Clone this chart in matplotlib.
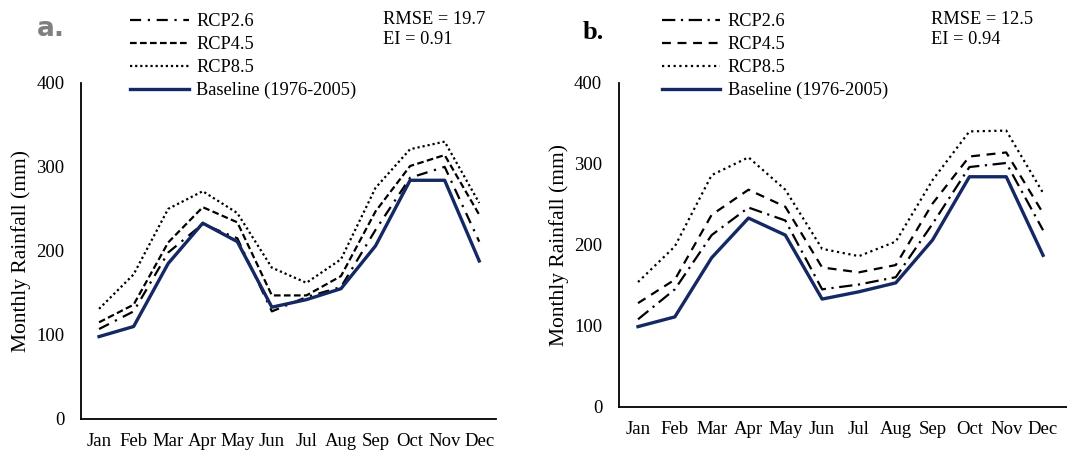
import matplotlib.pyplot as plt
import numpy as np

plt.rcParams['font.family'] = ['Liberation Serif', 'DejaVu Serif']

months = ['Jan', 'Feb', 'Mar', 'Apr', 'May', 'Jun', 'Jul', 'Aug', 'Sep', 'Oct', 'Nov', 'Dec']

# panel a
a_base = [98, 110, 185, 233, 211, 133, 142, 155, 206, 284, 284, 188]
a_rcp26 = [107, 128, 198, 232, 215, 128, 145, 157, 225, 287, 300, 211]
a_rcp45 = [115, 136, 210, 252, 234, 147, 147, 170, 247, 301, 314, 243]
a_rcp85 = [131, 172, 250, 271, 245, 180, 162, 190, 275, 321, 330, 257]

# panel b
b_base = [99, 111, 184, 233, 212, 133, 142, 153, 206, 284, 284, 187]
b_rcp26 = [108, 145, 212, 246, 230, 145, 151, 160, 226, 296, 301, 218]
b_rcp45 = [128, 157, 237, 268, 247, 172, 166, 175, 251, 309, 314, 239]
b_rcp85 = [154, 198, 286, 308, 268, 195, 186, 204, 280, 340, 341, 264]

navy = '#142864'

fig = plt.figure(figsize=(10.67, 4.5), dpi=100)
ax1 = fig.add_axes([0.076, 0.069, 0.389, 0.747])
ax2 = fig.add_axes([0.580, 0.096, 0.420, 0.72])

def draw(ax, base, r26, r45, r85, ds26, ds45, ds85, xr, leg_anchor):
    x = np.arange(len(months))
    ax.plot(x, r26, color='black', lw=1.6, dashes=ds26, label='RCP2.6')
    ax.plot(x, r45, color='black', lw=1.6, dashes=ds45, label='RCP4.5')
    ax.plot(x, r85, color='black', lw=1.6, dashes=ds85, label='RCP8.5')
    ax.plot(x, base, color=navy, lw=2.4, label='Baseline (1976-2005)')
    ax.set_xlim(-0.52, xr)
    ax.set_ylim(0, 400)
    ax.set_yticks([0, 100, 200, 300, 400])
    ax.set_xticks(x)
    ax.set_xticklabels(months)
    ax.tick_params(length=0, labelsize=13.5)
    ax.tick_params(axis='x', pad=10)
    ax.tick_params(axis='y', pad=12)
    for s in ['top', 'right']:
        ax.spines[s].set_visible(False)
    ax.spines['left'].set_linewidth(1.3)
    ax.spines['bottom'].set_linewidth(1.3)
    ax.set_ylabel('Monthly Rainfall (mm)', fontsize=15.5, labelpad=4)
    ax.legend(loc='upper left', bbox_to_anchor=leg_anchor, bbox_transform=fig.transFigure,
              frameon=False, fontsize=13.2, handlelength=3.2, handletextpad=0.4,
              labelspacing=0.32, borderaxespad=0, borderpad=0)

draw(ax1, a_base, a_rcp26, a_rcp45, a_rcp85, (5, 3, 1, 3), (3, 1.5), (1, 1.3),
     11.49, (0.122, 0.97))
draw(ax2, b_base, b_rcp26, b_rcp45, b_rcp85, (6, 2.5, 1, 2.5), (4, 3), (1, 1.6),
     11.65, (0.620, 0.97))

fig.text(0.035, 0.935, 'a.', fontsize=19, fontweight='bold', color='#7f7f7f',
         family='DejaVu Sans', va='center')
fig.text(0.546, 0.928, 'b.', fontsize=19, fontweight='bold', color='black', va='center')

fig.text(0.359, 0.975, 'RMSE = 19.7\nEI = 0.91', fontsize=13.2, va='top', linespacing=1.25)
fig.text(0.873, 0.975, 'RMSE = 12.5\nEI = 0.94', fontsize=13.2, va='top', linespacing=1.25)

fig.savefig('out.png', dpi=100)
